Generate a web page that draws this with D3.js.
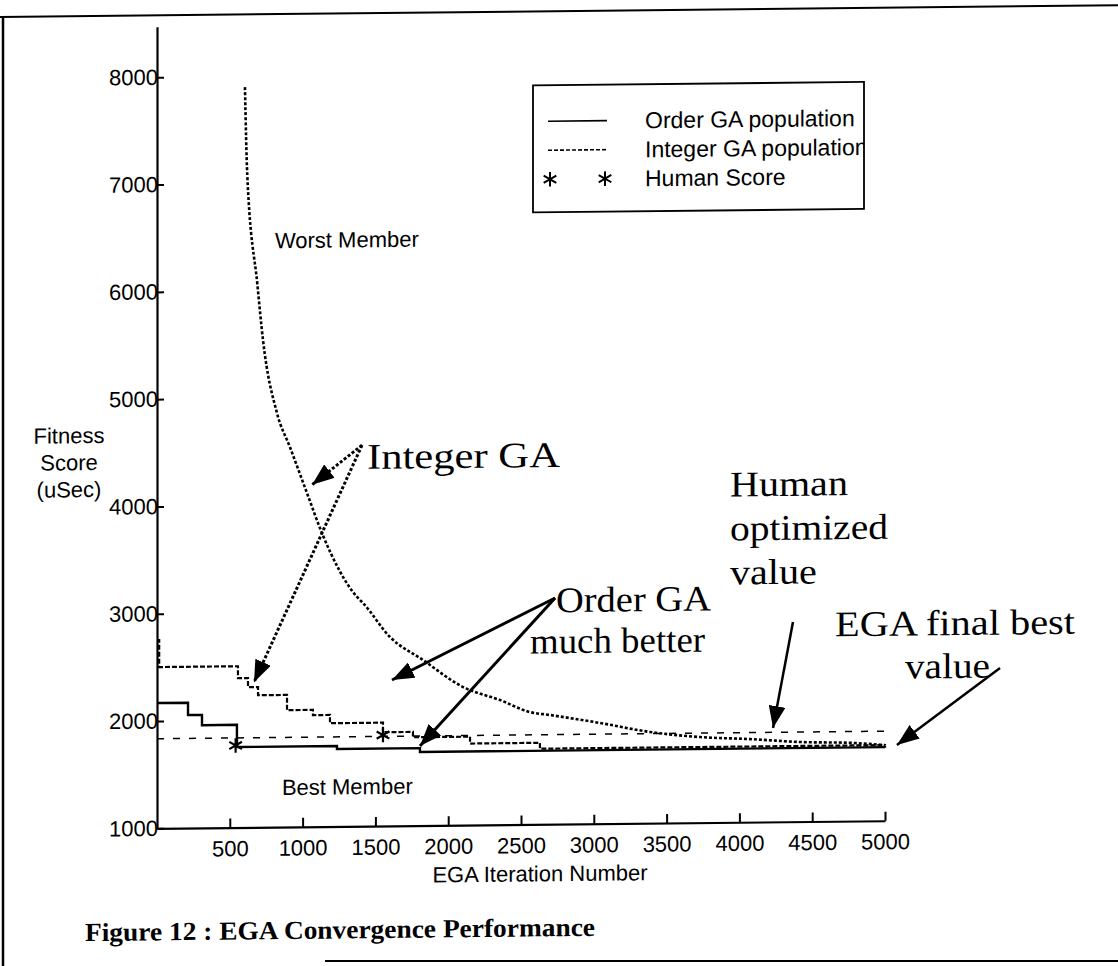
<!DOCTYPE html>
<html>
<head>
<meta charset="utf-8">
<script src="https://cdn.jsdelivr.net/npm/d3@7"></script>
<style>
  body { margin: 0; background: #fff; }
  svg text { font-family: "Liberation Sans", Arial, sans-serif; fill: #000; }
  svg text.serif { font-family: "Liberation Serif", "Times New Roman", serif; }
</style>
</head>
<body>
<div id="chart"></div>
<script>
// values (iteration number / fitness score in uSec)
var orderIter   = [0, 213, 309, 549, 1236, 1806, 5000];
var orderScore  = [2168, 2053, 1957, 1750, 1722, 1686, 1680];

var intBestIter  = [0, 15, 556, 625, 694, 893, 1071, 1188, 1552, 1758, 2150, 2630, 5000];
var intBestScore = [2755, 2503, 2392, 2307, 2231, 2089, 2040, 1963, 1874, 1824, 1760, 1705, 1700];

var intWorstIter  = [604, 620, 690, 728, 824, 913, 1030, 1133, 1374, 1415, 1600, 1827, 2102, 2356, 2562, 2699, 3043, 3386, 3729, 4073, 4416, 4780, 5000];
var intWorstScore = [7900, 7080, 6052, 5541, 4859, 4541, 4111, 3736, 3137, 3080, 2761, 2543, 2287, 2162, 2047, 2018, 1939, 1850, 1798, 1774, 1742, 1728, 1705];

var humanValue = 1835;
var humanIter  = [540, 1552];
var humanScore = [1765, 1848];

var xTicks = [500, 1000, 1500, 2000, 2500, 3000, 3500, 4000, 4500, 5000];
var yTicks = [1000, 2000, 3000, 4000, 5000, 6000, 7000, 8000];

var legendLabels = ["Order GA population", "Integer GA population", "Human Score"];

// annotation anchors in data units [iteration, score]
var noteIntegerFrom = [1408, 4551];
var noteIntegerTo   = [[1065, 4187], [666, 2351]];
var noteOrderFrom   = [2734, 3108];
var noteOrderTo     = [[1614, 2360], [1806, 1742]];
var noteHumanFrom   = [4368, 2861];
var noteHumanTo     = [4231, 1875];
var noteEgaFrom     = [5790, 2412];
var noteEgaTo       = [5082, 1705];

var width = 1118, height = 966;

var svg = d3.select("#chart").append("svg")
    .attr("width", width)
    .attr("height", height);

var defs = svg.append("defs");
defs.append("marker")
    .attr("id", "head")
    .attr("viewBox", "0 0 10 10")
    .attr("refX", 10).attr("refY", 5)
    .attr("markerWidth", 22).attr("markerHeight", 17)
    .attr("markerUnits", "userSpaceOnUse")
    .attr("preserveAspectRatio", "none")
    .attr("orient", "auto")
  .append("path")
    .attr("d", "M0,0L10,5L0,10z")
    .attr("fill", "#000");

// the scan is slightly skewed, so the whole page is too
var page = svg.append("g").attr("transform", "skewY(-0.6)");

// page frame
page.append("line").attr("x1", 0).attr("x2", width).attr("y1", 17).attr("y2", 17)
    .attr("stroke", "#000").attr("stroke-width", 2);
page.append("line").attr("x1", 3).attr("x2", 3).attr("y1", 17).attr("y2", height)
    .attr("stroke", "#000").attr("stroke-width", 2.5);
svg.append("line").attr("x1", 325).attr("x2", width).attr("y1", 961).attr("y2", 961)
    .attr("stroke", "#000").attr("stroke-width", 2);

var x = d3.scaleLinear().domain([0, 5000]).range([157, 885]);
var y = d3.scaleLinear().domain([1000, 8470]).range([830, 28.5]);

// axes
var xAxis = page.append("g")
    .attr("transform", "translate(0," + y(1000) + ")")
    .call(d3.axisBottom(x).tickValues(xTicks).tickFormat(d3.format("d"))
        .tickSizeInner(-9).tickSizeOuter(0).tickPadding(13));
var yAxis = page.append("g")
    .attr("transform", "translate(" + x(0) + ",0)")
    .call(d3.axisLeft(y).tickValues(yTicks).tickFormat(d3.format("d"))
        .tickSizeInner(-7).tickSizeOuter(0).tickPadding(-1));

[xAxis, yAxis].forEach(function(a) {
    a.attr("font-family", null).attr("font-size", null);
    a.select(".domain").attr("stroke", "#000").attr("stroke-width", 2.2);
    a.selectAll(".tick line").attr("stroke", "#000").attr("stroke-width", 2);
    a.selectAll(".tick text").style("font-size", "22px").attr("fill", "#000");
});

page.append("text")
    .attr("x", 540).attr("y", 887)
    .attr("text-anchor", "middle")
    .style("font-size", "22px")
    .text("EGA Iteration Number");

var yLab = page.append("text")
    .attr("x", 69).attr("y", 444)
    .attr("text-anchor", "middle")
    .style("font-size", "22px");
["Fitness", "Score", "(uSec)"].forEach(function(t, i) {
    yLab.append("tspan").attr("x", 69).attr("dy", i == 0 ? 0 : 27).text(t);
});

// series
var lineOf = function(xs, ys, curve) {
    return d3.line()
        .x(function(d, i) { return x(xs[i]); })
        .y(function(d, i) { return y(ys[i]); })
        .curve(curve)(xs);
};

page.append("line")
    .attr("x1", x(0)).attr("x2", x(5000))
    .attr("y1", y(humanValue)).attr("y2", y(humanValue))
    .attr("stroke", "#000").attr("stroke-width", 1.5)
    .attr("stroke-dasharray", "7,9");

page.append("path")
    .attr("d", lineOf(intWorstIter, intWorstScore, d3.curveMonotoneX))
    .attr("fill", "none").attr("stroke", "#000").attr("stroke-width", 2.6)
    .attr("stroke-dasharray", "3,2");

page.append("path")
    .attr("d", lineOf(intBestIter, intBestScore, d3.curveStepAfter))
    .attr("fill", "none").attr("stroke", "#000").attr("stroke-width", 2.2)
    .attr("stroke-dasharray", "5,2");

page.append("path")
    .attr("d", lineOf(orderIter, orderScore, d3.curveStepAfter))
    .attr("fill", "none").attr("stroke", "#000").attr("stroke-width", 2.4);

var star = d3.symbol().type(d3.symbolAsterisk).size(150);
page.selectAll(".human")
    .data(humanIter)
  .enter().append("path")
    .attr("class", "human")
    .attr("transform", function(d, i) { return "translate(" + x(d) + "," + y(humanScore[i]) + ")"; })
    .attr("d", star)
    .attr("fill", "none").attr("stroke", "#000").attr("stroke-width", 2.2);

// text labels in the plot
page.append("text")
    .attr("x", x(810)).attr("y", y(6396))
    .style("font-size", "22px")
    .text("Worst Member");
page.append("text")
    .attr("x", x(858)).attr("y", y(1298))
    .style("font-size", "22px")
    .text("Best Member");

// arrows
var arrow = function(from, to, dash, w) {
    page.append("line")
        .attr("x1", x(from[0])).attr("y1", y(from[1]))
        .attr("x2", x(to[0])).attr("y2", y(to[1]))
        .attr("stroke", "#000").attr("stroke-width", w)
        .attr("stroke-dasharray", dash)
        .attr("marker-end", "url(#head)");
};
noteIntegerTo.forEach(function(t) { arrow(noteIntegerFrom, t, "3,2", 3); });
noteOrderTo.forEach(function(t) { arrow(noteOrderFrom, t, null, 3); });
arrow(noteHumanFrom, noteHumanTo, null, 2.5);
arrow(noteEgaFrom, noteEgaTo, null, 2.5);

var serif = function(px, py, str, len) {
    page.append("text")
        .attr("class", "serif")
        .attr("x", px).attr("y", py)
        .attr("textLength", len)
        .attr("lengthAdjust", "spacingAndGlyphs")
        .style("font-size", "36px")
        .text(str);
};
serif(x(1442), y(4330), "Integer GA", 193);
serif(x(2740), y(2976), "Order GA", 155);
serif(x(2562), y(2976) + 41, "much better", 175);
serif(x(3935), y(4038), "Human", 118);
serif(x(3935), y(4038) + 44, "optimized", 158);
serif(x(3935), y(4038) + 88, "value", 87);
serif(x(4657), y(2724), "EGA final best", 240);
serif(x(5137), y(2724) + 43, "value", 85);

// legend
var leg = page.append("g");
defs.append("clipPath").attr("id", "legclip")
  .append("rect").attr("x", 533).attr("y", 91).attr("width", 331).attr("height", 127);
leg.append("rect")
    .attr("x", 533).attr("y", 91).attr("width", 331).attr("height", 127)
    .attr("fill", "#fff").attr("stroke", "#000").attr("stroke-width", 1.8);
var legRows = leg.append("g").attr("clip-path", "url(#legclip)");
legendLabels.forEach(function(t, i) {
    var ry = 127 + i * 29;
    if (i < 2) {
        legRows.append("line")
            .attr("x1", 548).attr("x2", 607).attr("y1", ry).attr("y2", ry)
            .attr("stroke", "#000").attr("stroke-width", 1.6)
            .attr("stroke-dasharray", i == 1 ? "4,2" : null);
    } else {
        [550, 605].forEach(function(sx) {
            legRows.append("path")
                .attr("transform", "translate(" + sx + "," + ry + ")")
                .attr("d", star)
                .attr("fill", "none").attr("stroke", "#000").attr("stroke-width", 2);
        });
    }
    legRows.append("text")
        .attr("x", 645).attr("y", ry + 8)
        .style("font-size", "23px")
        .text(t);
});

// caption
page.append("text")
    .attr("class", "serif")
    .attr("x", 85).attr("y", 942)
    .attr("textLength", 510)
    .attr("lengthAdjust", "spacingAndGlyphs")
    .style("font-size", "26px")
    .style("font-weight", "bold")
    .text("Figure 12 : EGA Convergence Performance");
</script>
</body>
</html>
